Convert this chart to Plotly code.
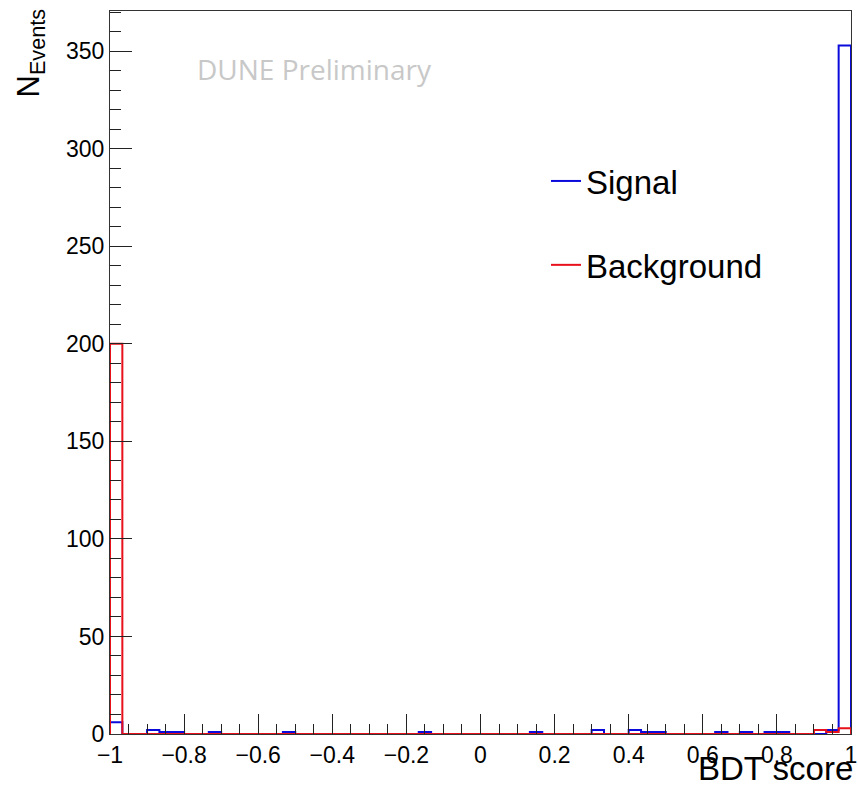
import numpy as np
import plotly.graph_objects as go

# 60 bins between -1 and 1
n_bins = 60
x_min, x_max = -1.0, 1.0

# Non-zero bin contents (bin index -> count)
signal_bins = {0: 6, 3: 2, 4: 1, 5: 1, 8: 1, 14: 1, 25: 1, 34: 1, 39: 2, 42: 2,
               43: 1, 44: 1, 49: 1, 51: 1, 53: 1, 54: 1, 58: 2, 59: 353}
background_bins = {0: 200, 57: 2, 58: 1, 59: 3}

series_names = ["Signal", "Background"]
series_colors = ["#0a0adc", "#e8101a"]

edges = np.linspace(x_min, x_max, n_bins + 1)


def contents(d):
    c = [0] * n_bins
    for k, v in d.items():
        c[k] = v
    return c


def step_xy(counts):
    xs = [edges[0]] + list(edges[:-1]) + [edges[-1], edges[-1]]
    ys = [0] + list(counts) + [counts[-1], 0]
    return xs, ys


fig = go.Figure()
for name, d, col in zip(series_names, [signal_bins, background_bins], series_colors):
    xs, ys = step_xy(contents(d))
    fig.add_trace(go.Scatter(x=xs, y=ys, mode="lines", name=name,
                             line=dict(color=col, width=2, shape="hv"),
                             legendgroup=name, hoverinfo="skip"))

ymax = 353 * 1.05
L, R, T, B = 110, 7, 11, 72
W, H = 858, 806
pw, ph = W - L - R, H - T - B

axis_font = dict(family="Liberation Sans, Arial, sans-serif", size=23, color="black")

fig.update_layout(
    width=W, height=H,
    margin=dict(l=L, r=R, t=T, b=B, pad=0, autoexpand=False),
    paper_bgcolor="white", plot_bgcolor="white",
    showlegend=True,
    legend=dict(x=(546 - L) / pw, xanchor="left", y=(734 - 153) / ph, yanchor="top",
                font=dict(family="Liberation Sans, Arial, sans-serif", size=33, color="black"),
                bgcolor="rgba(0,0,0,0)", traceorder="grouped", tracegroupgap=38,
                itemwidth=30),
    xaxis=dict(range=[x_min, x_max], tick0=-1, dtick=0.2, ticks="inside", ticklen=20,
               tickwidth=1, tickcolor="#222", showgrid=False, zeroline=False,
               showline=True, linecolor="#333", linewidth=1, mirror=True,
               tickfont=axis_font, automargin=False,
               minor=dict(dtick=0.05, ticks="inside", ticklen=10, tickcolor="#222", showgrid=False)),
    yaxis=dict(range=[0, ymax], tick0=0, dtick=50, ticks="inside", ticklen=22,
               tickwidth=1, tickcolor="#222", showgrid=False, zeroline=False,
               showline=True, linecolor="#333", linewidth=1, mirror=True,
               tickfont=axis_font, automargin=False,
               minor=dict(dtick=10, ticks="inside", ticklen=11, tickcolor="#222", showgrid=False)),
)

# Axis titles (ROOT style placement)
fig.add_annotation(text="BDT score", xref="paper", yref="paper",
                   x=1.0 + 4 / pw, xanchor="right", y=-(768 - 734) / ph, yanchor="middle",
                   showarrow=False,
                   font=dict(family="Liberation Sans, Arial, sans-serif", size=33, color="black"))
fig.add_annotation(text="N<sub>Events</sub>", xref="paper", yref="paper",
                   x=(8 - L) / pw, xanchor="left", y=(734 - 7) / ph, yanchor="top",
                   textangle=-90, showarrow=False,
                   font=dict(family="Liberation Sans, Arial, sans-serif", size=31, color="black"))
fig.add_annotation(text="DUNE Preliminary", xref="paper", yref="paper",
                   x=(195 - L) / pw, xanchor="left", y=(734 - 69) / ph, yanchor="middle",
                   showarrow=False,
                   font=dict(family="Open Sans, Noto Sans, sans-serif", size=28, color="#c8c8c8"))

fig.write_html("out.html")
